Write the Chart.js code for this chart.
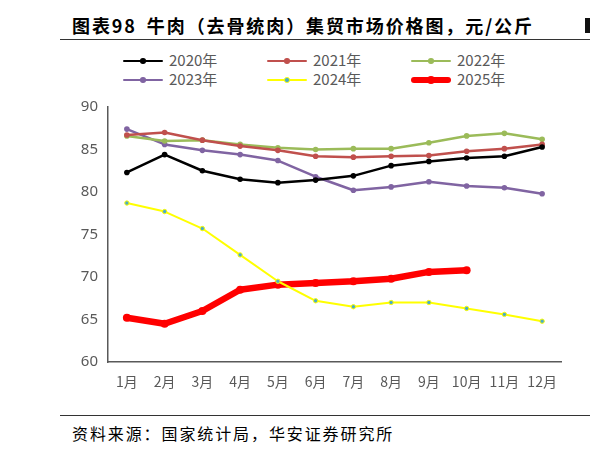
<!DOCTYPE html>
<html>
<head>
<meta charset="utf-8">
<script src="https://cdn.jsdelivr.net/npm/chart.js@4/dist/chart.umd.min.js"></script>
<style>
  body { margin: 0; background: #fff; width: 590px; height: 450px; position: relative; overflow: hidden; font-family: "Noto Sans CJK SC", "Noto Sans", sans-serif; }
  .title { position: absolute; left: 72px; top: 12px; font-size: 18px; font-weight: bold; letter-spacing: 1.9px; color: #000; white-space: nowrap; }
  .title .gap { display: inline-block; width: 10px; }
  .mark { position: absolute; left: 585px; top: 18px; width: 5px; height: 15px; background: #111; }
  .hline { position: absolute; left: 60px; right: 0; height: 1px; background: #333; }
  .legend { position: absolute; left: 0; top: 0; }
  .item { position: absolute; height: 18px; font-size: 15px; color: #595959; white-space: nowrap; }
  .sample { position: absolute; left: 0; top: 9px; width: 40px; }
  .sample .ln { position: absolute; left: 0; width: 40px; }
  .sample .dot { position: absolute; border-radius: 50%; }
  .item span.txt { position: absolute; left: 46px; top: -2px; line-height: 20px; }
  .chartbox { position: absolute; left: 60px; top: 88px; width: 520px; height: 305px; }
  .source { position: absolute; left: 72px; top: 421px; font-size: 16px; letter-spacing: 1.9px; color: #000; white-space: nowrap; }
</style>
</head>
<body>
<div class="title">图表98<span class="gap"></span>牛肉（去骨统肉）集贸市场价格图，元/公斤</div>
<div class="mark"></div>
<div class="hline" style="top:39px"></div>
<div class="legend" id="legend"></div>
<div class="chartbox"><canvas id="myChart"></canvas></div>
<div class="hline" style="top:415px"></div>
<div class="source">资料来源：国家统计局，华安证券研究所</div>

<script>
var months = ['1月','2月','3月','4月','5月','6月','7月','8月','9月','10月','11月','12月'];

var y2020 = [82.3, 84.4, 82.5, 81.5, 81.1, 81.4, 81.9, 83.1, 83.6, 84.0, 84.2, 85.3];
var y2021 = [86.7, 87.0, 86.1, 85.4, 84.9, 84.2, 84.1, 84.2, 84.3, 84.8, 85.1, 85.6];
var y2022 = [86.6, 86.0, 86.1, 85.6, 85.2, 85.0, 85.1, 85.1, 85.8, 86.6, 86.9, 86.2];
var y2023 = [87.4, 85.6, 84.9, 84.4, 83.7, 81.8, 80.2, 80.6, 81.2, 80.7, 80.5, 79.8];
var y2024 = [78.7, 77.7, 75.7, 72.6, 69.5, 67.2, 66.5, 67.0, 67.0, 66.3, 65.6, 64.8];
var y2025 = [65.2, 64.5, 66.0, 68.5, 69.1, 69.3, 69.5, 69.8, 70.6, 70.8];

var yTicks = [60, 65, 70, 75, 80, 85, 90];

var alldata = [
    { label: '2020年', data: y2020, borderColor: '#000000', pointBackgroundColor: '#000000', pointBorderColor: '#000000', borderWidth: 2.5, pointRadius: 2.8, pointBorderWidth: 0 },
    { label: '2021年', data: y2021, borderColor: '#C0504D', pointBackgroundColor: '#C0504D', pointBorderColor: '#C0504D', borderWidth: 2.5, pointRadius: 2.8, pointBorderWidth: 0 },
    { label: '2022年', data: y2022, borderColor: '#9BBB59', pointBackgroundColor: '#9BBB59', pointBorderColor: '#9BBB59', borderWidth: 2.5, pointRadius: 2.8, pointBorderWidth: 0 },
    { label: '2023年', data: y2023, borderColor: '#8064A2', pointBackgroundColor: '#8064A2', pointBorderColor: '#8064A2', borderWidth: 2.5, pointRadius: 2.8, pointBorderWidth: 0 },
    { label: '2024年', data: y2024, borderColor: '#FFFF00', pointBackgroundColor: '#4BACC6', pointBorderColor: '#FFFF00', borderWidth: 2, pointRadius: 2.2, pointBorderWidth: 1 },
    { label: '2025年', data: y2025, borderColor: '#FF0000', pointBackgroundColor: '#FF0000', pointBorderColor: '#FF0000', borderWidth: 6.5, pointRadius: 4, pointBorderWidth: 0 }
];

// ---------- legend (html, 3 per row) ----------
var legendBox = document.getElementById('legend');
for (let i = 0; i < alldata.length; i++) {
    let d = alldata[i];
    let item = document.createElement('div');
    item.className = 'item';
    item.style.left = (123 + (i % 3) * 144) + 'px';
    item.style.top = (52 + Math.floor(i / 3) * 19) + 'px';
    let lw = d.borderWidth;
    let r = d.pointRadius + d.pointBorderWidth / 2;
    item.innerHTML =
        '<div class="sample">' +
        '<div class="ln" style="top:' + (-lw / 2) + 'px;height:' + lw + 'px;background:' + d.borderColor + ';border-radius:' + (lw / 2) + 'px"></div>' +
        '<div class="dot" style="left:' + (20 - r) + 'px;top:' + (-r) + 'px;width:' + (2 * r) + 'px;height:' + (2 * r) + 'px;background:' + d.pointBackgroundColor + ';box-sizing:border-box;border:' + d.pointBorderWidth + 'px solid ' + d.pointBorderColor + '"></div>' +
        '</div><span class="txt">' + d.label + '</span>';
    legendBox.appendChild(item);
}

// ---------- chart ----------
var canvas = document.getElementById('myChart').getContext('2d');
var myChart = new Chart(canvas, {
    type: 'line',
    data: {
        labels: months,
        datasets: alldata
    },
    options: {
        responsive: true,
        maintainAspectRatio: false,
        animation: false,
        layout: { padding: { top: 12, right: 19, left: 0, bottom: 0 } },
        elements: { line: { tension: 0, fill: false, borderJoinStyle: 'round', borderCapStyle: 'round' } },
        plugins: { legend: { display: false }, tooltip: { enabled: false } },
        scales: {
            x: {
                offset: true,
                grid: { display: false, drawTicks: false },
                border: { display: true, color: '#595959', width: 1.5 },
                ticks: { color: '#595959', font: { size: 14, family: 'Noto Sans CJK SC' }, padding: 11, maxRotation: 0 },
                afterFit: function(scale) { scale.height = 31; }
            },
            y: {
                min: 60,
                max: 90,
                afterBuildTicks: function(scale) { scale.ticks = yTicks.map(function(v) { return { value: v }; }); },
                grid: { display: false, drawTicks: false },
                border: { display: true, color: '#595959', width: 1.5 },
                ticks: { color: '#595959', font: { size: 15, family: 'Noto Sans' }, padding: 10 },
                afterFit: function(scale) { scale.width = 48; }
            }
        }
    }
});
</script>
</body>
</html>
